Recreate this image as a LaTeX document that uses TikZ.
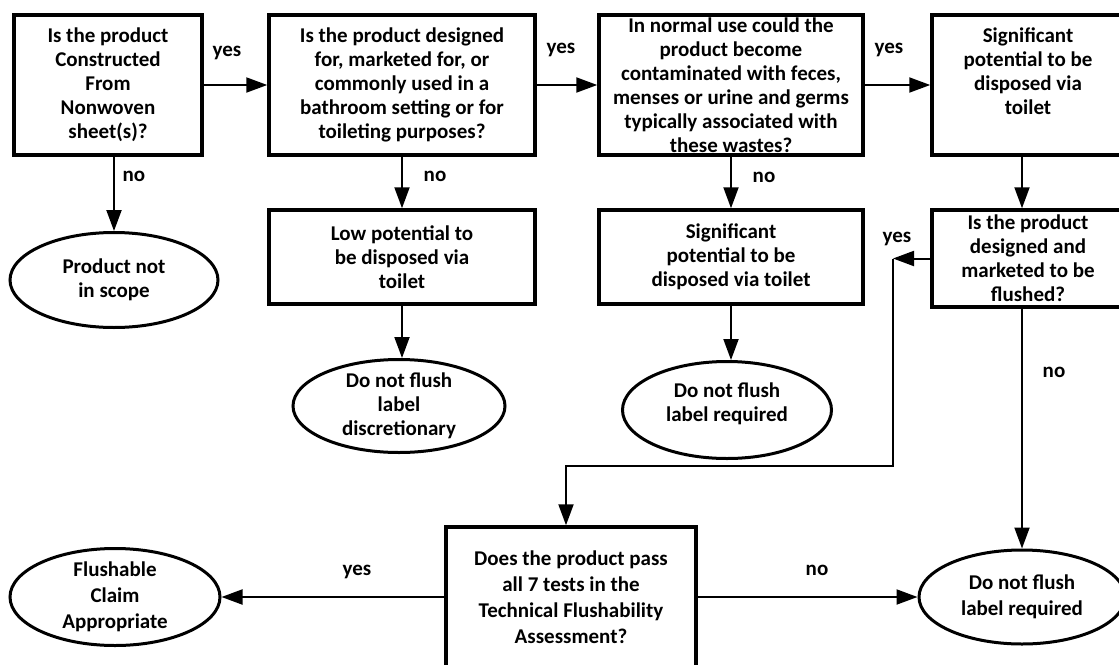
\documentclass[tikz,border=0pt]{standalone}
\usepackage{fontspec}
\setmainfont{Carlito}
\usetikzlibrary{arrows.meta,shapes.geometric,calc}
\begin{document}
\begin{tikzpicture}[x=1pt,y=-1pt,
  txt/.style={font=\fontsize{21}{24}\selectfont\bfseries, align=center},
  txtb/.style={font=\fontsize{21}{26}\selectfont\bfseries, align=center},
  flowbox/.style={draw, line width=3.5pt, rectangle, inner sep=0pt, txt},
  endnode/.style={draw, line width=3pt, ellipse, inner sep=-8pt, txt},
  arr/.style={line width=2pt, -{Triangle[length=21pt,width=15pt]}},
  lab/.style={txt, inner sep=0pt}]
\useasboundingbox (0,0) rectangle (1119,664);
\fill[white] (0,0) rectangle (1119,664);

% top row
\node[flowbox, minimum width=188pt, minimum height=140pt] (b1) at (108,85)
  {Is the product\\Constructed\\From\\Nonwoven\\sheet(s)?};
\node[flowbox, minimum width=266pt, minimum height=140pt] (b2) at (402,85)
  {Is the product designed\\for, marketed for, or\\commonly used in a\\bathroom setting or for\\toileting purposes?};
\node[flowbox, minimum width=264pt, minimum height=140pt] (b3) at (731,85)
  {In normal use could the\\product become\\contaminated with feces,\\menses or urine and germs\\typically associated with\\these wastes?};
\node[flowbox, minimum width=192pt, minimum height=140pt] (b4) at (1028,85)
  {Significant\\potential to be\\disposed via\\toilet\\[3pt]~};

% second row
\node[endnode, minimum width=208pt, minimum height=95pt] (e1) at (114,280)
  {Product not\\in scope};
\node[flowbox, minimum width=266pt, minimum height=94pt] (low) at (402,257)
  {Low potential to\\be disposed via\\toilet};
\node[flowbox, minimum width=264pt, minimum height=94pt] (mid) at (731,257)
  {Significant\\potential to be\\disposed via toilet};
\node[flowbox, minimum width=192pt, minimum height=97pt] (b5) at (1028,258.5)
  {Is the product\\designed and\\marketed to be\\flushed?};

% third row
\node[endnode, minimum width=212pt, minimum height=93pt] (e2) at (399,406)
  {Do not flush\\label\\discretionary};
\node[endnode, minimum width=209pt, minimum height=97pt] (e3) at (727,410)
  {Do not flush\\label required\\[-8pt]~};

% bottom row
\node[flowbox, txtb, minimum width=250pt, minimum height=140pt] (b6) at (571,597)
  {Does the product pass\\all 7 tests in the\\Technical Flushability\\Assessment?};
\node[endnode, txtb, minimum width=210pt, minimum height=97pt] (eL) at (115,597)
  {Flushable\\Claim\\Appropriate};
\node[endnode, txtb, minimum width=206pt, minimum height=94pt] (eR) at (1022,597)
  {Do not flush\\label required};

% junctions
\coordinate (j1) at (893,258.5);
\coordinate (j2) at (566,466);

% connectors
\draw[arr] (b1.east) -- (b2.west);
\draw[arr] (b2.east) -- (b3.west);
\draw[arr] (b3.east) -- (b4.west);
\draw[arr] (b1.south -| e1.north) -- (e1.north);
\draw[arr] (b2.south) -- (low.north);
\draw[arr] (b3.south) -- (mid.north);
\draw[arr] (b4.south -| eR.north) -- (b5.north -| eR.north);
\draw[arr] (low.south) -- (low.south |- e2.north);
\draw[arr] (mid.south) -- (mid.south |- e3.north);
\draw[arr] (b5.west) -- (j1);
\draw[arr] (j1) |- (j2) -- (j2 |- b6.north);
\draw[arr] (b5.south -| eR.north) -- (eR.north);
\draw[arr] (b6.west) -- (eL.east);
\draw[arr] (b6.east) -- (eR.west);

% labels
\node[lab] (l1) at (227,53) {yes};
\node[lab] (l2) at (561,50) {yes};
\node[lab] (l3) at (889,50) {yes};
\node[lab] (l4) at (134,176) {no};
\node[lab] (l5) at (435,176) {no};
\node[lab] (l6) at (764,177) {no};
\node[lab] (l7) at (897,239) {yes};
\node[lab] (l8) at (1054,372) {no};
\node[lab, txtb] (l9) at (357,572) {yes};
\node[lab, txtb] (l10) at (817,570) {no};
\end{tikzpicture}
\end{document}
